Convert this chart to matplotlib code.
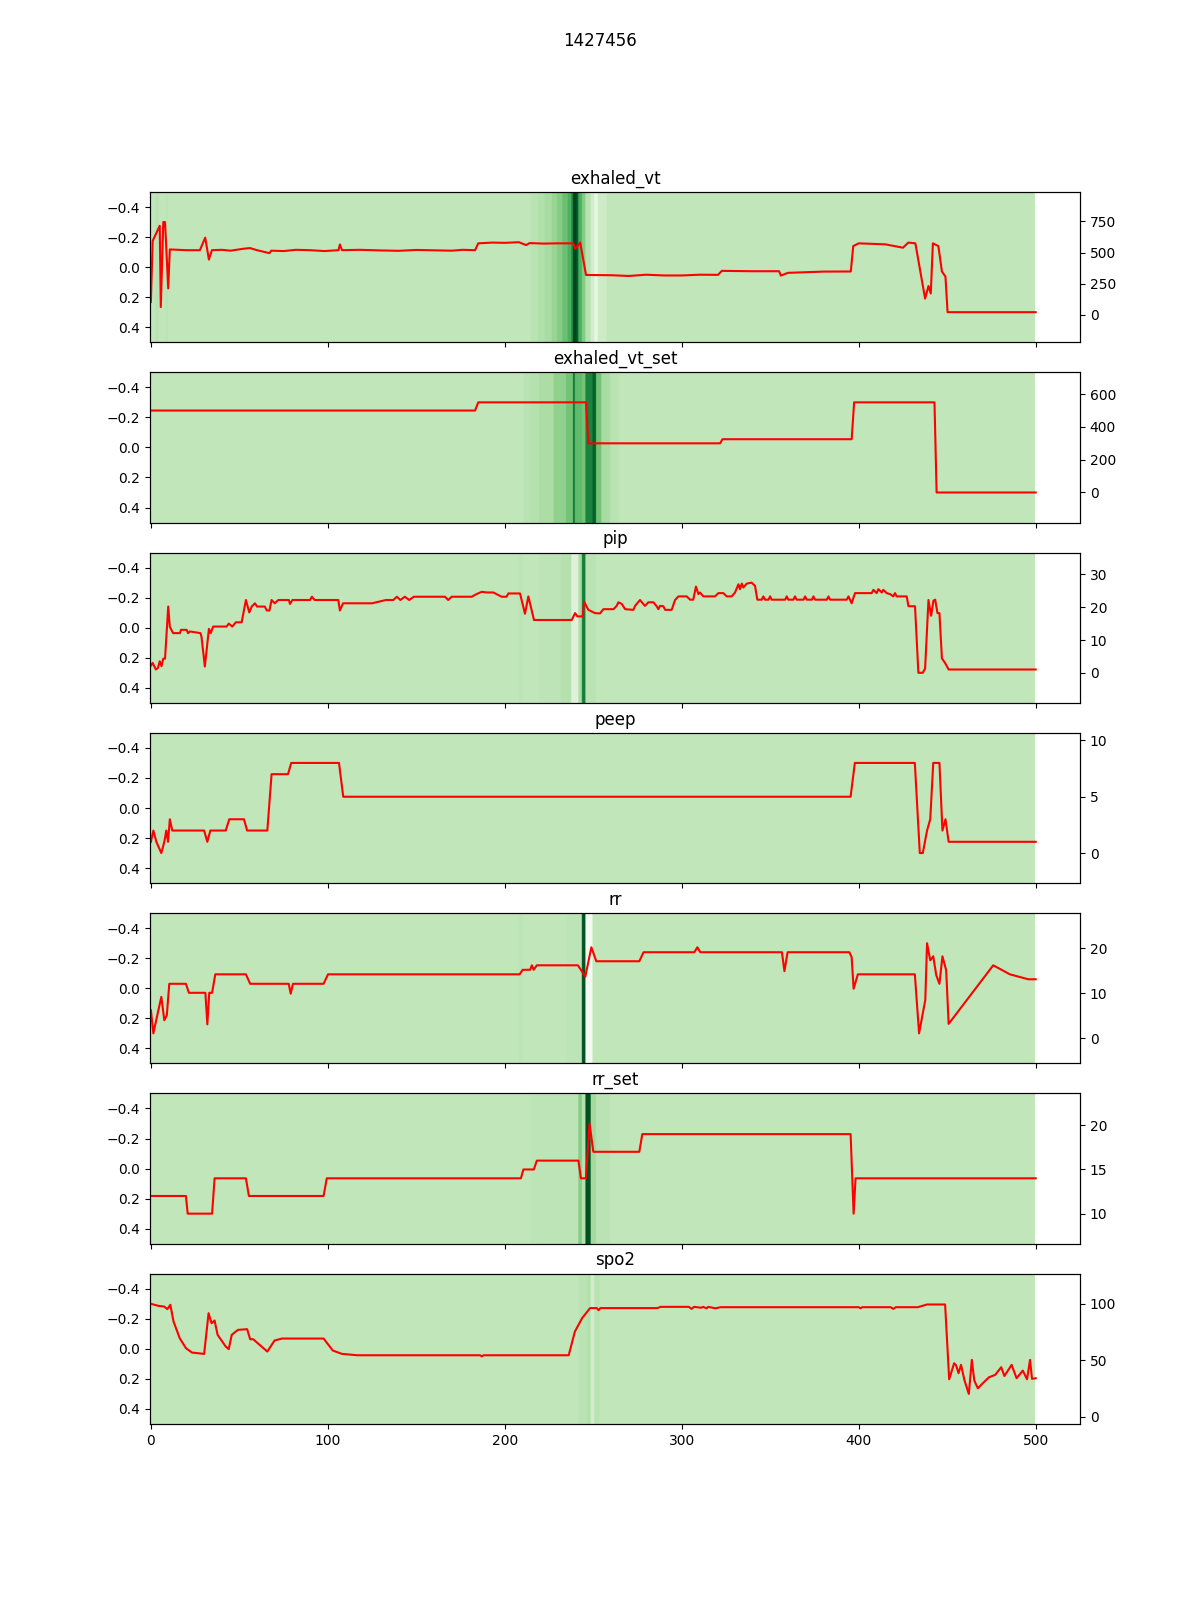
import numpy as np
import matplotlib.pyplot as plt

patient_id = '1427456'
n_steps = 500
base_att = 0.27

names = ['exhaled_vt', 'exhaled_vt_set', 'pip', 'peep', 'rr', 'rr_set', 'spo2']

# attention bands: (start, end, weight), everything else is base_att
att_exhaled_vt = [(3, 5, 0.29), (9, 10, 0.29), (215, 219, 0.29), (219, 223, 0.32), (223, 227, 0.35),
                  (227, 230, 0.4), (230, 233, 0.45), (233, 236, 0.52), (236, 238, 0.6), (238, 239, 0.75),
                  (239, 241, 1.0), (241, 242, 0.9), (242, 244, 0.6), (244, 246, 0.45), (246, 249, 0.3),
                  (249, 251, 0.2), (251, 253, 0.1), (253, 258, 0.22)]
att_exhaled_vt_set = [(211, 215, 0.29), (215, 220, 0.31), (220, 228, 0.34), (228, 235, 0.42), (235, 239, 0.5),
                      (239, 240, 0.85), (240, 244, 0.55), (244, 246, 0.5), (246, 250, 0.78), (250, 252, 0.9),
                      (252, 255, 0.5), (255, 260, 0.35), (260, 265, 0.29)]
att_pip = [(208, 211, 0.285), (220, 232, 0.285), (232, 238, 0.31), (238, 242, 0.15), (242, 244, 0.33),
           (244, 246, 0.8), (246, 252, 0.29)]
att_peep = []
att_rr = [(208, 211, 0.285), (235, 244, 0.285), (244, 246, 0.95), (246, 250, 0.03)]
att_rr_set = [(215, 242, 0.285), (242, 244, 0.45), (244, 246, 0.3), (246, 249, 0.95), (249, 252, 0.36),
              (252, 260, 0.29)]
att_spo2 = [(242, 247, 0.29), (247, 249, 0.32), (249, 251, 0.2), (251, 254, 0.29)]

# signals as (time step, value) breakpoints
exhaled_vt = [(0, 103), (1, 593), (5, 715), (5.6, 62), (7, 745), (8, 745), (9.8, 212), (10.7, 525), (20, 519),
              (27.7, 519), (30.7, 620), (32.8, 443), (34.5, 519), (40, 522), (45, 515), (52, 530), (56, 536),
              (60, 519), (67, 495), (68, 515), (75, 512), (82, 522), (90, 519), (98, 512), (106, 519),
              (106.8, 565), (108, 519), (118, 522), (130, 517), (140, 514), (150, 521), (160, 518), (170, 515),
              (176, 522), (183.2, 519), (185, 574), (193, 580), (200, 578), (208, 583), (212, 560), (214, 576),
              (222, 572), (230, 574), (238.7, 574), (239.8, 530), (242.6, 580), (245.9, 320), (260, 318),
              (270, 312), (280, 322), (290, 316), (300, 316), (310, 322), (320.5, 321), (322.6, 353), (340, 350),
              (355, 350), (356, 315), (360, 337), (380, 347), (395.5, 348), (396.9, 552), (400, 574), (415, 566),
              (425, 539), (428, 580), (432, 574), (437.5, 130), (439.4, 231), (440.7, 171), (441.9, 574),
              (445, 552), (447, 348), (449, 307), (450.2, 21), (500, 21)]
exhaled_vt_set = [(0, 500), (183.2, 500), (185, 550), (245.9, 550), (247.2, 300), (321.7, 300), (323, 325),
                  (396, 325), (397.4, 550), (442.8, 550), (444, 0), (500, 0)]
pip = [(0, 2.2), (1, 3), (2.8, 1), (4, 1.5), (5, 3.5), (6, 2), (7, 4.3), (8, 4.3), (9.8, 20.2), (10.7, 14),
       (12.6, 12.1), (16.4, 12.1), (17, 13.1), (20.2, 13.1), (21, 12.1), (22, 12.6), (28, 12.1), (28.6, 11),
       (30.5, 1.9), (32.8, 13.4), (33.8, 12.1), (35.2, 14.1), (42.8, 14.1), (44, 15), (46, 14.1), (48, 15.4),
       (51.3, 15.4), (53.7, 22.2), (55.6, 18.4), (57, 20.2), (58.8, 21.2), (60, 20.2), (64.4, 20.2),
       (65.5, 19), (67, 19), (68.2, 22.2), (70, 21.2), (72, 22.2), (78, 22.2), (78.6, 21), (80, 22.2),
       (89.9, 22.2), (91, 23.2), (92.5, 22.2), (105.9, 22.2), (106.8, 19), (108.6, 21.2), (125, 21.2),
       (132.8, 22.2), (137, 22.2), (139, 23.2), (141, 22.2), (143.5, 23.2), (146, 22.2), (148.6, 23.2),
       (166.2, 23.2), (168, 22.2), (170, 23.2), (181.3, 23.2), (184, 24), (187, 24.7), (189.8, 24.5),
       (193.5, 24.5), (198.2, 23.2), (201, 23.2), (202, 24.2), (208.6, 24.2), (211.4, 18), (213.3, 23.3),
       (216.5, 16.1), (237.8, 16.1), (239.7, 18.2), (241, 17.2), (244, 17.2), (244.8, 21.7), (247.2, 19.2),
       (251, 18.2), (253.8, 18.1), (255.7, 19.4), (261.4, 19.4), (263.2, 20.4), (264.2, 21.5), (266.1, 21.0),
       (268.0, 19.4), (272.7, 19.2), (273.6, 20.4), (276.4, 22.2), (279.2, 20.4), (281.1, 21.5),
       (284.0, 21.5), (285.8, 20.3), (286.8, 19.4), (287.7, 20.4), (289.6, 20.3), (290.6, 19.2),
       (294.3, 19.2), (296.2, 22.2), (298.1, 23.3), (302.8, 23.3), (304.7, 22.3), (306.5, 22.3),
       (308.0, 26.3), (309.4, 24.0), (310.3, 24.5), (312.2, 23.3), (318.8, 23.3), (320.7, 24.3),
       (323.5, 24.3), (325.4, 23.3), (328.2, 23.3), (330.1, 24.5), (332.0, 27.0), (332.9, 25.5),
       (333.9, 27.2), (334.8, 26.0), (336.7, 27.2), (339.5, 27.5), (341.4, 26.5), (342.7, 22.3),
       (345.2, 22.3), (346.1, 23.3), (347.0, 22.3), (349.0, 22.3), (349.9, 23.3), (350.8, 22.3),
       (358.4, 22.3), (359.3, 23.3), (360.2, 22.3), (363.1, 22.3), (364.0, 23.3), (364.9, 22.3),
       (368.8, 22.3), (369.7, 23.3), (370.6, 22.3), (373.5, 22.3), (374.4, 23.3), (375.3, 22.3),
       (382.0, 22.3), (382.9, 23.3), (383.8, 22.3), (393.2, 22.3), (394.2, 23.3), (396.0, 21.2),
       (397.9, 24.3), (407.3, 24.3), (408.3, 25.3), (410.1, 24.3), (411.1, 25.5), (413.0, 24.5),
       (413.9, 25.3), (415.8, 24.3), (417.7, 24.0), (419.5, 23.3), (420.5, 24.3), (421.4, 23.3),
       (427.1, 23.3), (428.1, 20.3), (431.8, 20.3), (433.7, 0.0), (436.2, 0.0), (437.5, 1.3), (439.4, 22.2),
       (440.9, 17.4), (442.2, 22.0), (443.2, 22.3), (444.5, 18.2), (445.6, 18.2), (447.0, 4.4),
       (448.9, 2.9), (450.8, 1.0), (500, 1.0)]
peep = [(0, 1), (1.4, 2), (3.1, 1), (5.9, 0), (7.6, 1), (8.7, 2), (9.7, 1), (10.7, 3), (12.1, 2), (30.1, 2),
        (31.9, 1), (33.6, 2), (42.3, 2), (44.3, 3), (52.6, 3), (54.4, 2), (65.8, 2), (68.2, 7), (77.5, 7),
        (79.3, 8), (106.3, 8), (108.7, 5), (395.4, 5), (397.8, 8), (431.7, 8), (434.5, 0), (436.2, 0),
        (438.6, 2), (440.4, 3), (442.1, 8), (445.6, 8), (447.3, 2), (449.0, 3), (450.8, 1), (500, 1)]
rr = [(0, 6.25), (1.4, 1.1), (5.9, 9.2), (7.6, 4.0), (9.0, 5.1), (10.4, 12.1), (19.8, 12.1), (21.5, 10.1),
      (30.8, 10.1), (31.9, 3.1), (33, 10.1), (34.6, 10.1), (36.4, 14.2), (53.7, 14.2), (56.1, 12.1),
      (77.9, 12.1), (79, 9.9), (80.3, 12.1), (97.6, 12.1), (100.1, 14.2), (208.4, 14.2), (210.1, 15.2),
      (214.3, 15.2), (215.3, 16.2), (216.3, 15.2), (218.1, 16.2), (241.3, 16.2), (245.5, 13.7),
      (248.9, 20.2), (251.7, 17.1), (276, 17.1), (278.4, 19.1), (307.1, 19.1), (308.8, 20.2), (310.5, 19.1),
      (356.6, 19.1), (358, 14.9), (359.8, 19.1), (394.7, 19.1), (396, 18), (397.1, 11), (399.5, 14.2),
      (431.7, 14.2), (434.1, 1.1), (437.6, 8.5), (438.6, 21.1), (440.4, 17.3), (442.1, 18.2), (443.8, 14),
      (445.6, 12.1), (447.3, 18.2), (449.4, 15.1), (450.8, 3.2), (476, 16.2), (485.4, 14.2), (495.8, 13.1),
      (500, 13.1)]
rr_set = [(0, 12), (19.8, 12), (20.8, 10), (34.6, 10), (36, 14), (53.7, 14), (55.4, 12), (97.6, 12),
          (99.4, 14), (209.1, 14), (210.5, 15), (216.4, 15), (218.1, 16), (241.6, 16), (243, 14), (245.8, 14),
          (247.9, 20.2), (250, 17), (276, 17), (277.7, 19), (395.4, 19), (397.1, 10), (398.2, 14), (500, 14)]
spo2 = [(0, 100), (4.2, 98.2), (7.6, 97.5), (9.3, 95.3), (11, 99.1), (12.8, 84.3), (16.3, 69.5), (19.8, 60.7),
        (23.2, 56.8), (30.1, 55.6), (32.6, 91.7), (34.3, 82.8), (36, 85.2), (37.7, 72.5), (42.3, 62.1),
        (44, 59.8), (45.7, 72.5), (49.2, 76.9), (54.4, 77.5), (56.1, 68.6), (57.8, 68.6), (65.8, 57.7),
        (69.9, 67.5), (74.1, 69.2), (97.6, 69.2), (102.8, 58.6), (108, 55.6), (116.7, 54.4), (186, 54.4),
        (187, 53.4), (188, 54.4), (236.1, 54.4), (239.6, 75.4), (243.7, 87.3), (248.2, 96.2), (252, 96.2),
        (253, 94.3), (254, 96.2), (286.3, 96.2), (288, 97.3), (304, 97.3), (305.5, 95.5), (307, 97.3),
        (311, 96.5), (312, 97.3), (314, 96), (315, 97.3), (319, 96), (320.5, 96.5), (322, 97), (350, 97),
        (400, 97), (401, 96), (402, 97), (418, 97), (419.5, 95.5), (421, 97), (433.4, 97), (438.6, 99.4),
        (448.8, 99.4), (451.1, 33.1), (453.9, 47.3), (455, 45.5), (456.4, 38.5), (457.8, 45.9), (459.7, 32.5),
        (462.2, 20.1), (463.9, 50.3), (465.3, 32), (467.3, 25.1), (470.1, 29.6), (473.6, 34.9), (477.1, 37),
        (480.5, 43.8), (482.3, 36), (486.4, 45.9), (489.2, 34), (492.7, 40.8), (495.1, 33.1), (496.8, 50.3),
        (497.9, 33.5), (500, 34)]

att_bands = [att_exhaled_vt, att_exhaled_vt_set, att_pip, att_peep, att_rr, att_rr_set, att_spo2]
signals = [exhaled_vt, exhaled_vt_set, pip, peep, rr, rr_set, spo2]

fig, axes = plt.subplots(len(names), 1, figsize=(12, 16), sharex=True)
fig.suptitle(patient_id)

for ax, name, bands, pts in zip(axes, names, att_bands, signals):
    att = np.full(n_steps, base_att)
    for start, end, w in bands:
        att[start:end] = w
    ax.imshow(att[np.newaxis, :], cmap='Greens', aspect='auto', vmin=0, vmax=1)
    ax.set_title(name)

    x, y = zip(*pts)
    ax2 = ax.twinx()
    ax2.plot(x, y, color='red')
    lo, hi = min(y), max(y)
    pad = (hi - lo) / 3
    ax2.set_ylim(lo - pad, hi + pad)

plt.savefig('out.png')
